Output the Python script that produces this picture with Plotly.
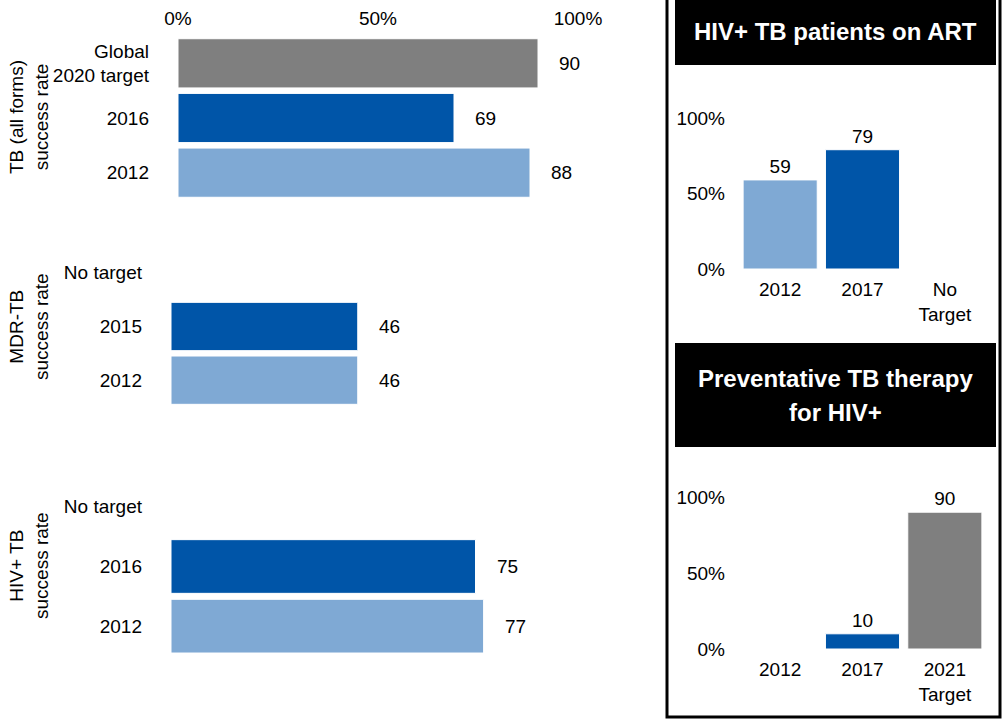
import plotly.graph_objects as go

# ---------------- data ----------------
tb_cats = ["Global<br>2020 target", "2016", "2012"]
tb_vals = [90, 69, 88]

mdr_cats = ["No target", "2015", "2012"]
mdr_vals = [None, 46, 46]

hiv_cats = ["No target", "2016", "2012"]
hiv_vals = [None, 75, 77]

art_cats = ["2012", "2017", "No<br>Target"]
art_vals = [59, 79, None]

ipt_cats = ["2012", "2017", "2021<br>Target"]
ipt_vals = [None, 10, 90]

pct_ticks = [0, 50, 100]
pct_labels = ["0%", "50%", "100%"]

# ---------------- styles ----------------
GRAY = "#7f7f7f"
DARK = "#0055a8"
LIGHT = "#7fa9d4"
FONT = "Liberation Sans, Arial, sans-serif"
FS = 19
W, H = 1003, 720

def px_x(p):
    return p / W

def px_y(p):
    return 1 - p / H

fig = go.Figure()

def hbar(cats, vals, colors, axn):
    xa = "x" if axn == 1 else f"x{axn}"
    ya = "y" if axn == 1 else f"y{axn}"
    pos = list(range(len(cats)))
    fig.add_trace(go.Bar(
        x=vals, y=pos, orientation="h", xaxis=xa, yaxis=ya,
        marker=dict(color=colors, line=dict(color="white", width=1)),
        width=0.9, showlegend=False, hoverinfo="skip"))
    for p, v in zip(pos, vals):
        if v is None:
            continue
        fig.add_annotation(x=v, y=p, xref=xa, yref=ya, text=str(v),
                           showarrow=False, xanchor="left", yanchor="middle",
                           xshift=19,
                           font=dict(size=FS, color="black", family=FONT))

def vbar(cats, vals, colors, axn):
    xa = f"x{axn}"
    ya = f"y{axn}"
    fig.add_trace(go.Bar(
        x=cats, y=vals, xaxis=xa, yaxis=ya,
        marker=dict(color=colors, line=dict(color="white", width=1)),
        width=0.9, text=[("" if v is None else str(v)) for v in vals],
        textposition="outside", cliponaxis=False,
        textfont=dict(size=FS, color="black", family=FONT),
        showlegend=False, hoverinfo="skip"))

hbar(tb_cats, tb_vals, [GRAY, DARK, LIGHT], 1)
hbar(mdr_cats, mdr_vals, [DARK, DARK, LIGHT], 2)
hbar(hiv_cats, hiv_vals, [DARK, DARK, LIGHT], 3)
vbar(art_cats, art_vals, [LIGHT, DARK, GRAY], 4)
vbar(ipt_cats, ipt_vals, [LIGHT, DARK, GRAY], 5)

tickfont = dict(size=FS, color="black", family=FONT)
common = dict(showgrid=False, zeroline=False, showline=False, ticks="",
              automargin=False, fixedrange=True)

def hidden_x(dom, anchor):
    return dict(domain=dom, range=[0, 100], type="linear",
                showticklabels=False, anchor=anchor, **common)

def pos_y(dom, cats, anchor):
    n = len(cats)
    return dict(domain=dom, type="linear", range=[n - 0.5, -0.5],
                tickvals=list(range(n)), ticktext=cats, tickfont=tickfont,
                ticklabelstandoff=28, anchor=anchor, **common)

def cat_x(dom, cats, anchor):
    return dict(domain=dom, type="category", categoryorder="array",
                categoryarray=cats, tickfont=tickfont, ticklabelstandoff=7,
                anchor=anchor, **common)

def pct_y(dom, anchor):
    return dict(domain=dom, range=[0, 100], type="linear",
                tickvals=pct_ticks, ticktext=pct_labels, tickfont=tickfont,
                ticklabelstandoff=13, anchor=anchor, **common)

fig.update_layout(
    template="none",
    width=W, height=H,
    margin=dict(l=0, r=0, t=0, b=0, pad=0),
    paper_bgcolor="white", plot_bgcolor="white",
    font=dict(family=FONT, color="black", size=FS),
    showlegend=False,
    xaxis=dict(domain=[px_x(178), px_x(578)], range=[0, 100], type="linear",
               side="top", tickvals=pct_ticks, ticktext=pct_labels,
               tickfont=tickfont, ticklabelstandoff=6, anchor="y", **common),
    yaxis=pos_y([px_y(200), px_y(36)], tb_cats, "x"),
    xaxis2=hidden_x([px_x(171), px_x(577)], "y2"),
    yaxis2=pos_y([px_y(407), px_y(246)], mdr_cats, "x2"),
    xaxis3=hidden_x([px_x(171), px_x(577)], "y3"),
    yaxis3=pos_y([px_y(656), px_y(477)], hiv_cats, "x3"),
    xaxis4=cat_x([px_x(739), px_x(986)], art_cats, "y4"),
    yaxis4=pct_y([px_y(269), px_y(118)], "x4"),
    xaxis5=cat_x([px_x(739), px_x(986)], ipt_cats, "y5"),
    yaxis5=pct_y([px_y(649), px_y(497)], "x5"),
)

# rotated group titles
for txt, cy in [("TB (all forms)<br>success rate", 117),
                ("MDR-TB<br>success rate", 327),
                ("HIV+ TB<br>success rate", 566)]:
    fig.add_annotation(x=px_x(29), y=px_y(cy), xref="paper", yref="paper",
                       text=txt, textangle=-90, showarrow=False,
                       xanchor="center", yanchor="middle",
                       font=dict(size=FS, color="black", family=FONT))

# right panel frame and title boxes
fig.add_shape(type="rect", xref="paper", yref="paper",
              x0=px_x(667), x1=px_x(1000), y0=px_y(717), y1=px_y(-5),
              line=dict(color="black", width=3), fillcolor="rgba(0,0,0,0)",
              layer="above")
fig.add_shape(type="rect", xref="paper", yref="paper",
              x0=px_x(675), x1=px_x(996), y0=px_y(65), y1=px_y(-5),
              line=dict(width=0), fillcolor="black", layer="below")
fig.add_shape(type="rect", xref="paper", yref="paper",
              x0=px_x(675), x1=px_x(996), y0=px_y(447), y1=px_y(343),
              line=dict(width=0), fillcolor="black", layer="below")
for txt, cy in [("<b>HIV+ TB patients on ART</b>", 32),
                ("<b>Preventative TB therapy</b>", 378),
                ("<b>for HIV+</b>", 412)]:
    fig.add_annotation(x=px_x(835), y=px_y(cy), xref="paper", yref="paper",
                       text=txt, showarrow=False,
                       xanchor="center", yanchor="middle",
                       font=dict(size=24, color="white", family=FONT))

fig.write_html("out.html", config={"displayModeBar": False},
               post_script="document.body.style.margin='0';")
